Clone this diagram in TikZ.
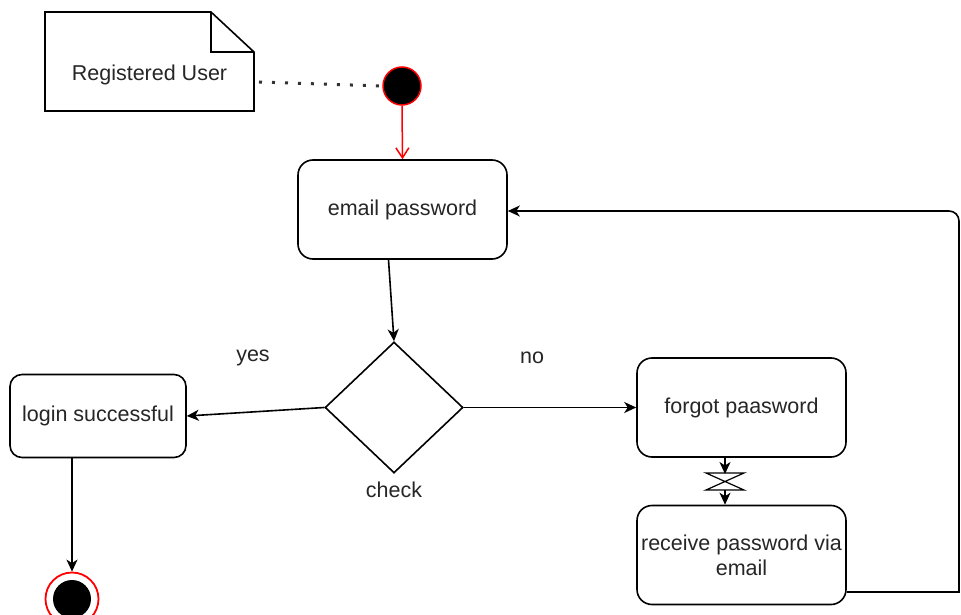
\documentclass[tikz,border=0pt]{standalone}
\usepackage{fontspec}
\setmainfont{Liberation Sans}
\usetikzlibrary{shapes.geometric,arrows.meta}
\begin{document}
\begin{tikzpicture}[x=1pt,y=-1pt,
  every node/.style={font=\fontsize{21.5}{25}\selectfont, text=black!85},
  actbox/.style={draw, line width=1.6pt, rounded corners=15pt, fill=white, minimum width=209pt, minimum height=99pt, align=center, inner sep=0pt},
  arr/.style={draw, line width=1.6pt, -{Stealth[length=12pt,width=11pt,inset=3.5pt]}},
  lbl/.style={inner sep=0pt}
]
\useasboundingbox (0,0) rectangle (961,615);
\fill[white] (0,0) rectangle (961,615);

% note
\coordinate (nTL) at (45,12);
\coordinate (nBR) at (254,111);
\coordinate (nF) at (211,12);
\coordinate (nFR) at (254,52);
\draw[line width=1.6pt, fill=white] (nTL) -- (nF) -- (nFR) -- (nBR) -- (nTL |- nBR) -- cycle;
\draw[line width=1.6pt] (nF) -- (nF |- nFR) -- (nFR);
\node[lbl] (note) at (149.5,75) {Registered User};
\coordinate (noteE) at (254,82);

% initial node
\node[circle, draw=red, line width=1.5pt, fill=black, minimum size=38pt, inner sep=0pt] (init) at (402,86) {};
\draw[line width=3pt, dash pattern=on 3pt off 10pt, black!80] ([xshift=5pt]noteE) -- (init.west);

% email password
\node[actbox] (email) at (402.5,209.5) {email password};
\draw[red, line width=1.5pt, -{Straight Barb[length=10pt,width=13pt]}] (init.south) -- (email.north);

% decision
\node[diamond, draw, line width=1.6pt, fill=white, minimum width=138pt, minimum height=131pt, inner sep=0pt] (check) at (394,407.5) {};
\node[lbl] (checklbl) at (394,490) {check};
\draw[arr] ([xshift=-14pt]email.south) -- (check.north);

% login successful
\node[actbox, minimum width=176pt, minimum height=83pt, rounded corners=12pt] (login) at (98,416) {login successful};
\draw[arr] (check.west) -- (login.east);
\node[lbl] (yes) at (253,358) {yes};

% forgot password
\node[actbox] (forgot) at (741.5,407.5) {forgot paasword};
\draw[arr] (check.east) -- (forgot.west);
\node[lbl] (no) at (532,358) {no};

% receive password
\node[actbox] (receive) at (741.5,555) {receive password via\\email};

% hourglass connector
\coordinate (hgT) at (725,473);
\coordinate (hgB) at (725,490);
\draw[arr] ([xshift=-16.5pt]forgot.south) -- ([yshift=-1pt]hgT);
\draw[line width=1.2pt] ([xshift=-19pt]hgT) -- ([xshift=19pt]hgT) -- ([xshift=-19pt]hgB) -- ([xshift=19pt]hgB) -- cycle;
\draw[arr] (hgB) -- ([xshift=-16.5pt]receive.north);

% loop back
\coordinate (loopBR) at (959,592);
\coordinate (loopTR) at (959,211);
\draw[arr] (receive.east |- loopBR) -- (loopBR) [rounded corners=10pt] -- (loopTR) -- (email.east |- loopTR);

% final node
\node[circle, draw=red, line width=1.8pt, fill=white, minimum size=53pt, inner sep=0pt] (final) at (72,599) {};
\node[circle, fill=black, minimum size=38pt, inner sep=0pt] (finalin) at (final.center) {};
\draw[arr] ([xshift=-26pt]login.south) -- (final.north);
\end{tikzpicture}
\end{document}
